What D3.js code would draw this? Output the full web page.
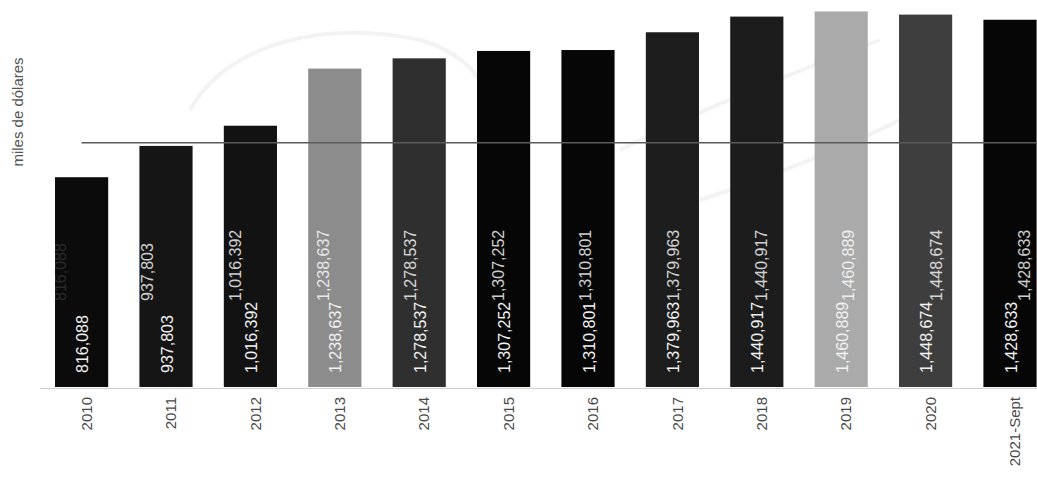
<!DOCTYPE html>
<html>
<head>
<meta charset="utf-8">
<script src="https://cdn.jsdelivr.net/npm/d3@7"></script>
<style>
  html, body { margin: 0; padding: 0; background: #ffffff; }
  svg { display: block; }
</style>
</head>
<body>
<svg id="chart" width="1037" height="481"></svg>
<script>
const categories = ["2010", "2011", "2012", "2013", "2014", "2015", "2016", "2017", "2018", "2019", "2020", "2021-Sept"];
const values = [816088, 937803, 1016392, 1238637, 1278537, 1307252, 1310801, 1379963, 1440917, 1460889, 1448674, 1428633];
const barColors = ["#0b0b0b", "#151515", "#121212", "#8c8c8c", "#2f2f2f", "#060606", "#060606", "#1d1d1d", "#1c1c1c", "#aaaaaa", "#3e3e3e", "#060606"];
const referenceValue = 950000;
const yAxisTitle = "miles de dólares";

const svg = d3.select("#chart");
const W = 1037, H = 481;
svg.append("rect").attr("width", W).attr("height", H).attr("fill", "#ffffff");

// very faint watermark strokes (scanned background)
const wm = svg.append("g").attr("fill", "none").attr("stroke", "#f3f3f3").attr("stroke-width", 4);
wm.append("path").attr("d", "M190,110 C230,40 330,20 420,40 C470,55 500,90 480,130");
wm.append("path").attr("d", "M620,150 C700,110 800,70 880,40");
wm.append("path").attr("d", "M700,200 C760,180 840,150 900,120");

const x = d3.scaleBand().domain(categories).range([39.4, 1052.2]).paddingInner(0.37).paddingOuter(0.185);
const y = d3.scaleLinear().domain([0, 1500000]).range([387, 1.4]);
const fmt = d3.format(",");

// baseline
svg.append("line").attr("x1", 40).attr("x2", W).attr("y1", y(0) + 1.5).attr("y2", y(0) + 1.5)
  .attr("stroke", "#d0d0d0").attr("stroke-width", 1);

// bars
svg.append("g").selectAll("rect").data(values).join("rect")
  .attr("x", (d, i) => x(categories[i]))
  .attr("width", x.bandwidth())
  .attr("y", d => y(d))
  .attr("height", d => y(0) - y(d))
  .attr("fill", (d, i) => barColors[i]);

// reference line
svg.append("line")
  .attr("x1", x(categories[0]) + x.bandwidth() / 2)
  .attr("x2", W)
  .attr("y1", y(referenceValue)).attr("y2", y(referenceValue))
  .attr("stroke", "#5a5a5a").attr("stroke-width", 1.5);

// ghost labels (misregistered scan layer)
const xGhost = d3.scaleLinear().domain([0, categories.length - 1]).range([60, 1024]);
svg.append("g").selectAll("text").data(values).join("text")
  .attr("transform", (d, i) => `translate(${xGhost(i)},${y(0) - 86}) rotate(-90)`)
  .attr("dy", "0.35em")
  .attr("text-anchor", "start")
  .attr("font-family", "Liberation Sans, Arial, sans-serif")
  .attr("font-size", 16)
  .attr("fill", "#ffffff")
  .attr("opacity", (d, i) => i === 0 ? 0.12 : 0.8)
  .text(d => fmt(d));

// value labels
svg.append("g").selectAll("text").data(values).join("text")
  .attr("transform", (d, i) => `translate(${x(categories[i]) + x.bandwidth() / 2 + 1},${y(0) - 14}) rotate(-90)`)
  .attr("dy", "0.35em")
  .attr("text-anchor", "start")
  .attr("font-family", "Liberation Sans, Arial, sans-serif")
  .attr("font-size", 16)
  .attr("fill", "#f2f2f2")
  .text(d => fmt(d));

// x axis
const xAxis = svg.append("g").attr("transform", `translate(0,${y(0)})`)
  .call(d3.axisBottom(x).tickSize(0).tickPadding(0));
xAxis.select(".domain").remove();
xAxis.selectAll("text")
  .attr("transform", "translate(5,10) rotate(-90)")
  .attr("text-anchor", "end")
  .attr("dy", "0.35em")
  .attr("y", 0)
  .attr("x", 0)
  .attr("font-family", "Liberation Sans, Arial, sans-serif")
  .attr("font-size", 15)
  .attr("fill", "#4a4a4a");

// y axis title
svg.append("text")
  .attr("transform", "translate(18,112) rotate(-90)")
  .attr("text-anchor", "middle")
  .attr("dy", "0.35em")
  .attr("font-family", "Liberation Sans, Arial, sans-serif")
  .attr("font-size", 15)
  .attr("fill", "#555555")
  .text(yAxisTitle);
</script>
</body>
</html>
